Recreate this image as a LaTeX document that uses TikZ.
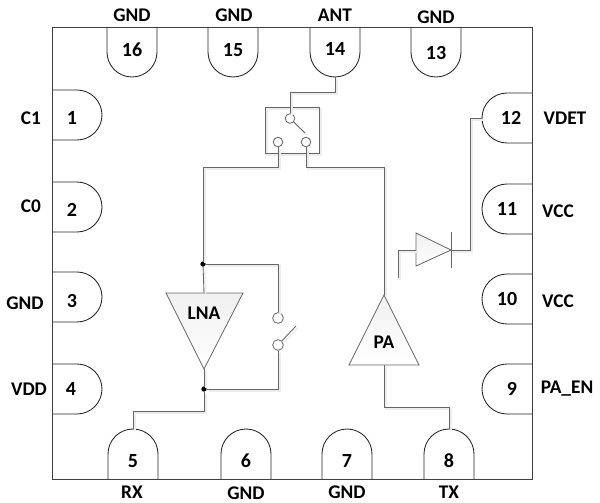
\documentclass[tikz,border=0pt]{standalone}
\usepackage{fontspec}
\setmainfont{Carlito}
\tikzset{
  x=0.75pt,y=-0.75pt,
  frame/.style={draw=black!75,line width=0.7pt},
  pin/.style={draw=black!85,fill=white,line width=0.65pt},
  wire/.style={draw=black!60,line width=0.65pt,preaction={draw=black!7,line width=1pt,transform canvas={shift={(1.4pt,-1.4pt)}}}},
  label/.style={font=\bfseries\fontsize{14.5}{16}\selectfont,text=black,inner sep=0pt},
  num/.style={font=\bfseries\fontsize{15}{17}\selectfont,text=black,inner sep=0pt},
  amp/.style={draw=black!60,line width=0.6pt,top color=black!6,bottom color=white},
  ring/.style={circle,draw=black!60,fill=white,line width=0.6pt,minimum size=7.2pt,inner sep=0pt},
  junction/.style={circle,fill=black,minimum size=4pt,inner sep=0pt}
}
\newcommand{\pinbelow}[3]{% left x, top y: flat on top, rounded below
  \draw[pin] (#1,#2) -- ++(0,25) arc[start angle=180,end angle=360,radius=18.75pt] -- ++(0,-25);
  \coordinate (p#3) at (#1+25,#2+50);}
\newcommand{\pinabove}[3]{%
  \draw[pin] (#1,#2) -- ++(0,-25) arc[start angle=180,end angle=0,radius=18.75pt] -- ++(0,25);
  \coordinate (p#3) at (#1+25,#2-50);}
\newcommand{\pinright}[3]{%
  \draw[pin] (#1,#2) -- ++(25,0) arc[start angle=90,end angle=-90,radius=18.75pt] -- ++(-25,0);
  \coordinate (p#3) at (#1+50,#2+25);}
\newcommand{\pinleft}[3]{%
  \draw[pin] (#1,#2) -- ++(-25,0) arc[start angle=90,end angle=270,radius=18.75pt] -- ++(25,0);
  \coordinate (p#3) at (#1-50,#2+25);}
\begin{document}
\begin{tikzpicture}
\useasboundingbox (0,0) rectangle (600,503);
\fill[white] (0,0) rectangle (600,503);
% pins
\pinbelow{107}{27}{16}\pinbelow{208}{27}{15}\pinbelow{310}{27}{14}\pinbelow{411}{27}{13}
\pinabove{108}{479}{5}\pinabove{221}{479}{6}\pinabove{322}{479}{7}\pinabove{424}{479}{8}
\pinright{52}{90}{1}\pinright{52}{182}{2}\pinright{52}{272}{3}\pinright{52}{364}{4}
\pinleft{532}{93}{12}\pinleft{532}{184}{11}\pinleft{532}{274}{10}\pinleft{532}{364}{9}
\draw[frame] (52,27) rectangle (532,479);
% numbers
\node[num] (n16) at (132,50) {16};
\node[num] (n15) at (233,50) {15};
\node[num] (n14) at (335,49) {14};
\node[num] (n13) at (436,53) {13};
\node[num] (n1) at (72,118) {1};
\node[num] (n2) at (72,210) {2};
\node[num] (n3) at (72,301) {3};
\node[num] (n4) at (71,389) {4};
\node[num] (n5) at (133,461) {5};
\node[num] (n6) at (246,461) {6};
\node[num] (n7) at (347,461) {7};
\node[num] (n8) at (449,461) {8};
\node[num] (n12) at (511,118) {12};
\node[num] (n11) at (507,209) {11};
\node[num] (n10) at (507,299) {10};
\node[num] (n9) at (512,389) {9};
% labels
\node[label] (l16) at (132,15) {GND};
\node[label] (l15) at (234,15) {GND};
\node[label] (l14) at (335,15) {ANT};
\node[label] (l13) at (436,17) {GND};
\node[label] (l1) at (31,118) {C1};
\node[label] (l2) at (31,206) {C0};
\node[label] (l3) at (25,303) {GND};
\node[label] (l4) at (29,389) {VDD};
\node[label] (l5) at (132,492) {RX};
\node[label] (l6) at (246,493) {GND};
\node[label] (l7) at (347,492) {GND};
\node[label] (l8) at (449,492) {TX};
\node[label] (l12) at (565,118) {VDET};
\node[label] (l11) at (558,211) {VCC};
\node[label] (l10) at (558,301) {VCC};
\node[label] (l9) at (567,389) {PA\_EN};
% amplifiers and diode
\coordinate (lnaT) at (204,293); \coordinate (lnaB) at (204,369);
\coordinate (paT) at (384,295); \coordinate (paB) at (384,365);
\coordinate (dA) at (416,250); \coordinate (dK) at (451,250);
\draw[amp] (166,293) -- (243,293) -- (lnaB) -- cycle;
\node[label] (lna) at (204,313) {LNA};
\draw[amp] (paT) -- (419,365) -- (349,365) -- cycle;
\node[label] (pa) at (384,342) {PA};
\draw[amp] (416,233) -- (dK) -- (416,266) -- cycle;
% switch box
\draw[wire] (265,107) rectangle (319,153);
\node[ring] (sc) at (290,118.5) {};
\node[ring] (sl) at (278,142) {};
\node[ring] (sr) at (306,142) {};
\draw[wire] (sc) -- (305,133);
\node[ring,minimum size=8pt] (lu) at (278,318) {};
\node[ring,minimum size=8pt] (ll) at (278,345) {};
\draw[wire] (ll) -- (296,326);
\node[junction] (j1) at (203,264) {};
\node[junction] (j2) at (204,389) {};
% wires
\draw[wire] (p14) -- (335,92) -| (sc);
\draw[wire] (sl) -- (278,167) -- (203,167) -- (j1);
\draw[wire] (j1) -- (lnaT);
\draw[wire] (sr) -- (306,167) -- (384,167) -- (paT);
\draw[wire] (j1) -| (lu);
\draw[wire] (ll) |- (j2);
\draw[wire] (lnaB) -- (j2);
\draw[wire] (j2) -- (204,411) -| (p5);
\draw[wire] (paB) -- (384,407) -| (p8);
\draw[wire] (dK) -- (470,250) |- (p12);
\draw[wire] (dA) -- (398,250) -- (398,278);
\draw[draw=black!60,line width=0.65pt] (451,232) -- (451,268);
\end{tikzpicture}
\end{document}
